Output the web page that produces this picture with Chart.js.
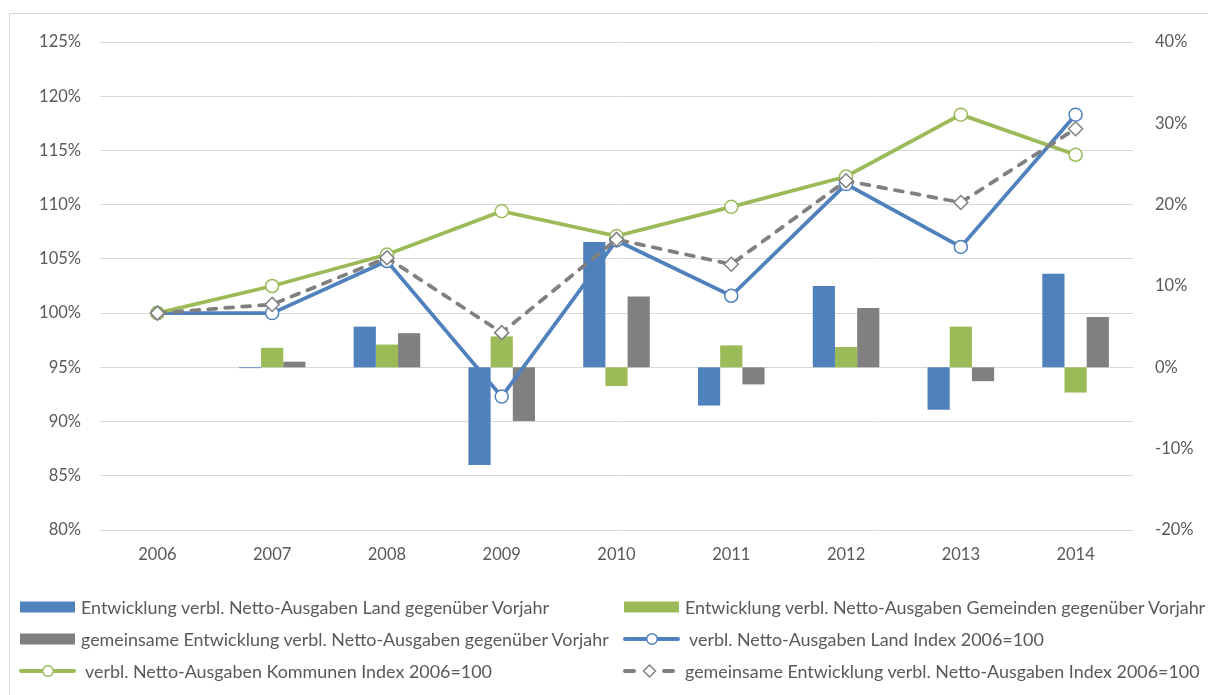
<!DOCTYPE html>
<html><head><meta charset="utf-8">
<script src="https://cdn.jsdelivr.net/npm/chart.js@4"></script>
<style>
html,body{margin:0;padding:0;background:#fff;overflow:hidden;}
#wrap{position:relative;width:1208px;height:695px;overflow:hidden;}
#frame{position:absolute;left:9px;top:13px;width:1250px;height:750px;border:1px solid #d9d9d9;}
#c{position:absolute;left:0;top:0;}
.lg{position:absolute;font-family:Lato,sans-serif;font-size:17.9px;color:#595959;white-space:nowrap;line-height:22px;height:22px;}
.mk{position:absolute;}
</style></head>
<body>
<div id="wrap">
<div id="frame"></div>
<canvas id="c" width="1208" height="695"></canvas>
<div id="legend"></div>
</div>
<script>
// ---- data ----
const categories = ['2006','2007','2008','2009','2010','2011','2012','2013','2014'];
const landChange      = [null, -0.1, 5.0, -12.0, 15.4, -4.7, 10.0, -5.2, 11.5];
const gemeindenChange = [null,  2.4, 2.8,   3.8, -2.3,  2.7,  2.5,  5.0, -3.1];
const gemeinsamChange = [null,  0.7, 4.2,  -6.6,  8.7, -2.1,  7.3, -1.7,  6.2];
const landIndex      = [100, 100.0, 104.8,  92.3, 106.7, 101.6, 111.9, 106.1, 118.3];
const kommunenIndex  = [100, 102.5, 105.4, 109.4, 107.1, 109.8, 112.6, 118.3, 114.6];
const gemeinsamIndex = [100, 100.8, 105.1,  98.2, 106.8, 104.5, 112.2, 110.2, 117.0];
const leftTicks  = {min: 80, max: 125, step: 5};
const rightTicks = {min: -20, max: 40, step: 10};
const seriesNames = [
  'Entwicklung verbl. Netto-Ausgaben Land gegenüber Vorjahr',
  'Entwicklung verbl. Netto-Ausgaben Gemeinden gegenüber Vorjahr',
  'gemeinsame Entwicklung verbl. Netto-Ausgaben gegenüber Vorjahr',
  'verbl. Netto-Ausgaben Land Index 2006=100',
  'verbl. Netto-Ausgaben Kommunen Index 2006=100',
  'gemeinsame Entwicklung verbl. Netto-Ausgaben Index 2006=100'
];

const BLUE = '#4f81bd', GREEN = '#9bbb59', GRAY = '#808080', TXT = '#595959';
const FONT = 'Lato, sans-serif';

const lineBase = {type:'line', yAxisID:'y', borderWidth:3.75, pointRadius:6.5, pointHoverRadius:6.5,
  pointBackgroundColor:'#fff', pointBorderWidth:1.5, tension:0, fill:false};

new Chart(document.getElementById('c'), {
  type: 'bar',
  data: {
    labels: categories,
    datasets: [
      {label: seriesNames[0], data: landChange, backgroundColor: BLUE, yAxisID:'y2', order: 10},
      {label: seriesNames[1], data: gemeindenChange, backgroundColor: GREEN, yAxisID:'y2', order: 10},
      {label: seriesNames[2], data: gemeinsamChange, backgroundColor: GRAY, yAxisID:'y2', order: 10},
      Object.assign({}, lineBase, {label: seriesNames[3], data: landIndex, borderColor: BLUE, pointBorderColor: BLUE, pointStyle:'circle', order: 3}),
      Object.assign({}, lineBase, {label: seriesNames[4], data: kommunenIndex, borderColor: GREEN, pointBorderColor: GREEN, pointStyle:'circle', order: 2}),
      Object.assign({}, lineBase, {label: seriesNames[5], data: gemeinsamIndex, borderColor: GRAY, pointBorderColor: GRAY, pointStyle:'rectRot', pointRadius:7, pointHoverRadius:7, borderDash:[8,9], borderCapStyle:'round', order: 1})
    ]
  },
  options: {
    responsive: false,
    animation: false,
    events: [],
    categoryPercentage: 0.58,
    barPercentage: 1.0,
    layout: {padding: {top: 42, bottom: 125, left: 0, right: 0}},
    plugins: {legend: {display: false}, tooltip: {enabled: false}},
    scales: {
      x: {
        grid: {display: false}, border: {display: false},
        ticks: {color: TXT, font: {family: FONT, size: 16.5}, padding: 7},
        afterFit: s => { s.height = 40; }
      },
      y: {
        position: 'left', min: leftTicks.min, max: leftTicks.max,
        grid: {color: '#d9d9d9', lineWidth: 1, drawTicks: false}, border: {display: false},
        ticks: {stepSize: leftTicks.step, color: TXT, font: {family: FONT, size: 16.5}, padding: 19, callback: v => v + '%'},
        afterFit: s => { s.width = 100; }
      },
      y2: {
        position: 'right', min: rightTicks.min, max: rightTicks.max,
        grid: {display: false, drawTicks: false}, border: {display: false},
        ticks: {stepSize: rightTicks.step, color: TXT, font: {family: FONT, size: 16.5}, padding: 22, callback: v => v + '%'},
        afterFit: s => { s.width = 75; }
      }
    }
  }
});

// ---- legend (HTML) ----
const legendItems = [
  {name: seriesNames[0], kind:'rect', color: BLUE,  x: 20,  y: 607, tx: 81},
  {name: seriesNames[1], kind:'rect', color: GREEN, x: 624, y: 607, tx: 685},
  {name: seriesNames[2], kind:'rect', color: GRAY,  x: 20,  y: 639, tx: 81},
  {name: seriesNames[3], kind:'circle', color: BLUE, x: 623, y: 639, tx: 689},
  {name: seriesNames[4], kind:'circle', color: GREEN, x: 19, y: 671, tx: 85},
  {name: seriesNames[5], kind:'diamond', color: GRAY, x: 623, y: 671, tx: 685}
];
const lg = document.getElementById('legend');
legendItems.forEach(it => {
  let svg;
  if (it.kind === 'rect') {
    svg = `<svg class="mk" style="left:${it.x}px;top:${it.y-10}px" width="60" height="20"><rect x="0" y="4.5" width="55" height="11" fill="${it.color}"/></svg>`;
  } else if (it.kind === 'circle') {
    svg = `<svg class="mk" style="left:${it.x}px;top:${it.y-10}px" width="60" height="20"><line x1="2" y1="10" x2="55" y2="10" stroke="${it.color}" stroke-width="4" stroke-linecap="round"/><circle cx="29" cy="10" r="5.3" fill="#fff" stroke="${it.color}" stroke-width="1.5"/></svg>`;
  } else {
    svg = `<svg class="mk" style="left:${it.x}px;top:${it.y-10}px" width="60" height="20"><line x1="2" y1="10" x2="11" y2="10" stroke="${it.color}" stroke-width="4" stroke-linecap="round"/><line x1="41" y1="10" x2="50" y2="10" stroke="${it.color}" stroke-width="4" stroke-linecap="round"/><path d="M20.5 10 L26.5 4 L32.5 10 L26.5 16 Z" fill="#fff" stroke="${it.color}" stroke-width="1.5"/></svg>`;
  }
  lg.insertAdjacentHTML('beforeend', svg + `<div class="lg" style="left:${it.tx}px;top:${it.y-11}px">${it.name}</div>`);
});
</script>
</body></html>
